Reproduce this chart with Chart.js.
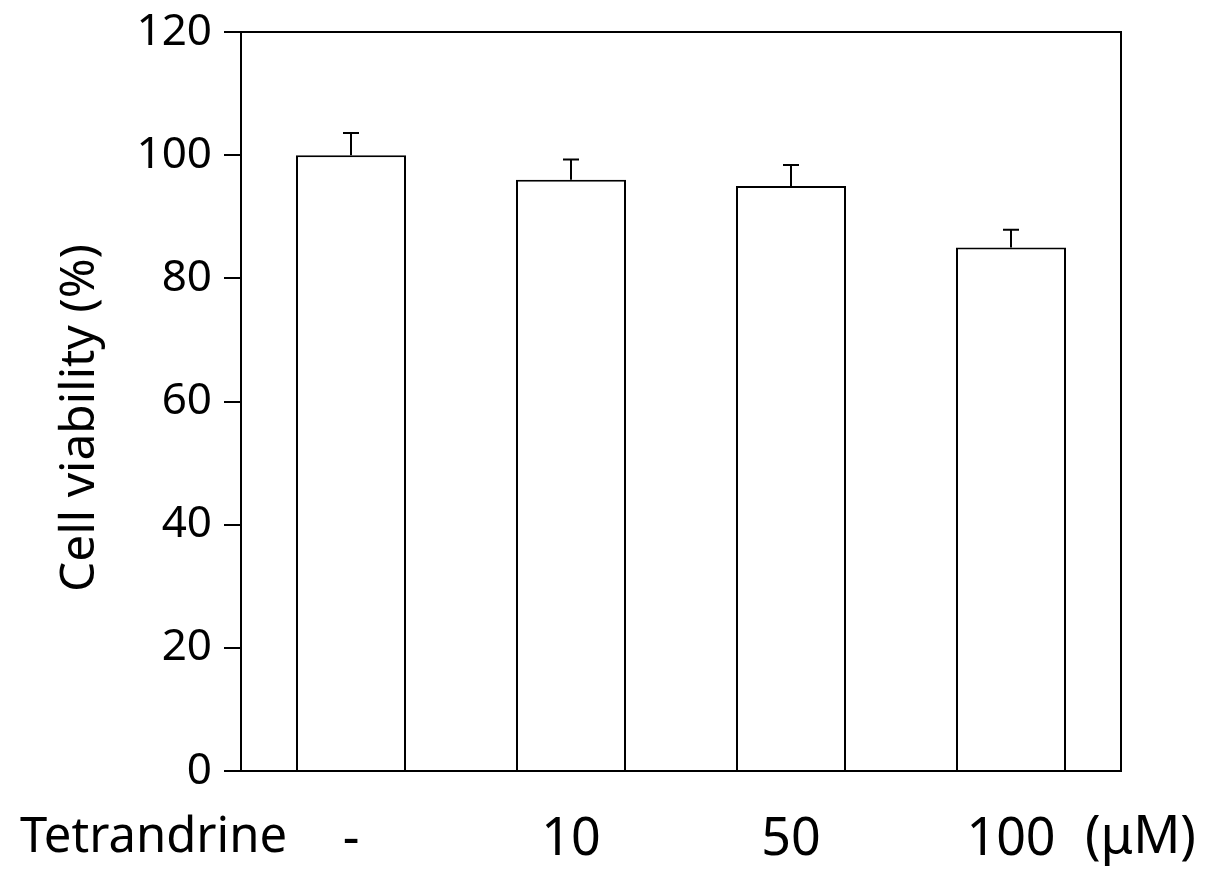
<!DOCTYPE html>
<html>
<head>
<meta charset="utf-8">
<script src="https://cdn.jsdelivr.net/npm/chart.js@4"></script>
<style>
  html, body { margin: 0; padding: 0; background: #fff; }
  #wrap { width: 1205px; height: 881px; }
</style>
</head>
<body>
<div id="wrap"><canvas id="viabilityChart" width="1205" height="881"></canvas></div>
<script>
// Tetrandrine dose vs cell viability
const doses = ['-', '10', '50', '100'];
const viability = [100, 96, 95, 85];
const viabilityErr = [3.6, 3.3, 3.4, 2.9];
const yMin = 0, yMax = 120, yStep = 20;

const FONT = '"Noto Sans", "Open Sans", sans-serif';

// error bars (upper only, with cap)
const errorBars = {
  id: 'errorBars',
  afterDatasetsDraw(chart) {
    const { ctx, scales: { y } } = chart;
    const meta = chart.getDatasetMeta(0);
    ctx.save();
    ctx.strokeStyle = '#000';
    ctx.lineWidth = 2;
    meta.data.forEach((bar, i) => {
      const top = y.getPixelForValue(viability[i] + viabilityErr[i]);
      ctx.beginPath();
      ctx.moveTo(bar.x, bar.y);
      ctx.lineTo(bar.x, top);
      ctx.moveTo(bar.x - 8, top);
      ctx.lineTo(bar.x + 8, top);
      ctx.stroke();
    });
    ctx.restore();
  }
};

// frame box, axis title and the side labels
const extras = {
  id: 'extras',
  afterDraw(chart) {
    const { ctx, chartArea: a } = chart;
    ctx.save();
    ctx.strokeStyle = '#000';
    ctx.lineWidth = 2;
    ctx.strokeRect(a.left, a.top, a.right - a.left, a.bottom - a.top);

    ctx.fillStyle = '#000';
    ctx.font = '49px ' + FONT;
    ctx.textBaseline = 'middle';
    ctx.textAlign = 'left';
    ctx.fillText('Tetrandrine', 20, 838);
    ctx.font = '52px ' + FONT;
    ctx.fillText('(\u03bcM)', 1085, 838);

    ctx.font = '48px ' + FONT;
    ctx.translate(80, 418);
    ctx.rotate(-Math.PI / 2);
    ctx.textAlign = 'center';
    ctx.fillText('Cell viability (%)', 0, 0);
    ctx.restore();
  }
};

new Chart(document.getElementById('viabilityChart'), {
  type: 'bar',
  data: {
    labels: doses,
    datasets: [{
      data: viability,
      backgroundColor: '#fff',
      borderColor: '#000',
      borderWidth: 2,
      categoryPercentage: 1,
      barPercentage: 0.5
    }]
  },
  options: {
    responsive: false,
    animation: false,
    layout: { padding: { left: 0, right: 84, top: 32, bottom: 0 } },
    plugins: { legend: { display: false }, tooltip: { enabled: false } },
    scales: {
      x: {
        grid: { display: false },
        border: { display: false },
        ticks: { color: '#000', font: { family: FONT, size: 52 }, padding: 30, maxRotation: 0 },
        afterFit(s) { s.height = 110; }
      },
      y: {
        min: yMin,
        max: yMax,
        grid: { drawOnChartArea: false, tickLength: 17, color: '#000', lineWidth: 2 },
        border: { display: false },
        ticks: { stepSize: yStep, color: '#000', font: { family: FONT, size: 44 }, padding: 12 },
        afterFit(s) { s.width = 241; s.paddingTop = 0; s.paddingBottom = 0; }
      }
    }
  },
  plugins: [errorBars, extras]
});
</script>
</body>
</html>
